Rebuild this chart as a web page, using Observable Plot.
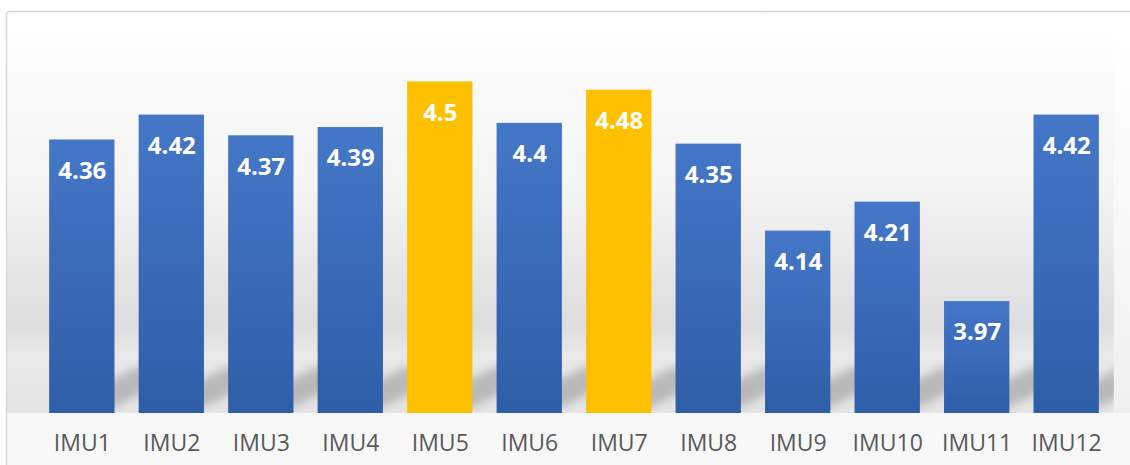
<!DOCTYPE html>
<html><head><meta charset="utf-8">
<script src="https://cdn.jsdelivr.net/npm/d3@7"></script>
<script src="https://cdn.jsdelivr.net/npm/@observablehq/plot@0.6"></script>
<style>body{margin:0;background:#fff;} #chart{width:1130px;height:465px;}</style>
</head><body><div id="chart"></div>
<script>
const categories = ["IMU1","IMU2","IMU3","IMU4","IMU5","IMU6","IMU7","IMU8","IMU9","IMU10","IMU11","IMU12"];
const values = [4.36, 4.42, 4.37, 4.39, 4.5, 4.4, 4.48, 4.35, 4.14, 4.21, 3.97, 4.42];
const highlighted = ["IMU5", "IMU7"];
const yDomain = [3.7, 4.6];

const data = categories.map((c, i) => ({name: c, value: values[i]}));

const chart = Plot.plot({
  width: 1130, height: 465,
  marginLeft: 25, marginRight: 7, marginTop: 40, marginBottom: 52,
  style: {fontFamily: "'Open Sans', sans-serif", background: "transparent", color: "#595959", overflow: "visible"},
  x: {domain: categories, padding: 0.27, round: false, label: null},
  y: {domain: yDomain, axis: null},
  color: {type: "identity"},
  marks: [
    Plot.barY(data, {x: "name", y1: yDomain[0], y2: "value",
      fill: d => highlighted.includes(d.name) ? "#FFC000" : "url(#blueGrad)"}),
    Plot.text(data, {x: "name", y: "value", text: d => String(d.value), dy: 31,
      lineAnchor: "middle", fill: "white", fontWeight: "bold", fontSize: 24}),
    Plot.axisX({tickSize: 0, tickPadding: 21, fontSize: 23, label: null})
  ]
});

// decorative background, border and bar shadows (positions from Plot's scales)
const ns = "http://www.w3.org/2000/svg";
const xs = chart.scale("x"), ys = chart.scale("y");
const base = ys.apply(yDomain[0]);
const plotRight = xs.apply(categories[categories.length - 1]) + xs.bandwidth + 15;

const bgG = document.createElementNS(ns, "g");
const defsN = document.createElementNS(ns, "defs");
chart.insertBefore(bgG, chart.firstChild);
chart.insertBefore(defsN, chart.firstChild);
const defs = d3.select(defsN);

const bGrad = defs.append("linearGradient").attr("id", "blueGrad").attr("x1", 0).attr("y1", 0).attr("x2", 0).attr("y2", 1);
bGrad.append("stop").attr("offset", "0%").attr("stop-color", "#4577c8");
bGrad.append("stop").attr("offset", "100%").attr("stop-color", "#2f5ea8");

const bg = defs.append("linearGradient").attr("id", "bgGrad").attr("gradientUnits", "userSpaceOnUse")
  .attr("x1", 0).attr("y1", 12).attr("x2", 0).attr("y2", base);
[[0, "#ffffff"], [0.45, "#f3f3f3"], [0.78, "#dddddd"], [0.86, "#e9e9e9"], [1, "#e4e4e4"]]
  .forEach(([o, c]) => bg.append("stop").attr("offset", o).attr("stop-color", c));
const bg2 = defs.append("linearGradient").attr("id", "bgGrad2").attr("gradientUnits", "userSpaceOnUse")
  .attr("x1", 0).attr("y1", 12).attr("x2", 0).attr("y2", base);
[[0, "#ffffff"], [0.6, "#f7f7f7"], [1, "#efefef"]]
  .forEach(([o, c]) => bg2.append("stop").attr("offset", o).attr("stop-color", c));

defs.append("filter").attr("id", "blur").attr("x", "-50%").attr("y", "-50%").attr("width", "200%").attr("height", "200%")
  .append("feGaussianBlur").attr("stdDeviation", 5);
defs.append("clipPath").attr("id", "bgClip").append("rect")
  .attr("x", 7).attr("y", 12).attr("width", plotRight - 7).attr("height", base - 12);

const g = d3.select(bgG);
g.append("rect").attr("x", 7).attr("y", 12).attr("width", plotRight - 7).attr("height", base - 12).attr("fill", "url(#bgGrad)");
g.append("rect").attr("x", plotRight).attr("y", 12).attr("width", 1130 - plotRight).attr("height", base - 12).attr("fill", "url(#bgGrad2)");
g.append("rect").attr("x", 7).attr("y", base).attr("width", 1123).attr("height", 465 - base).attr("fill", "#f8f8f8");
g.append("rect").attr("x", 6.5).attr("y", 11.5).attr("width", 1200).attr("height", 600).attr("rx", 3)
  .attr("fill", "none").attr("stroke", "#d9d9d9").attr("stroke-width", 1.5);

const sh = g.append("g").attr("clip-path", "url(#bgClip)").append("g").attr("filter", "url(#blur)");
data.forEach(d => {
  const x1 = xs.apply(d.name), x2 = x1 + xs.bandwidth;
  const L = 40, dx = 80, b = base - 6;
  sh.append("polygon")
    .attr("points", [[x1 + 8, b], [x2, b], [x2 + dx, b - L], [x1 + 8 + dx, b - L]].map(p => p.join(",")).join(" "))
    .attr("fill", "#000").attr("opacity", 0.2);
});

document.getElementById("chart").appendChild(chart);
</script>
</body></html>
